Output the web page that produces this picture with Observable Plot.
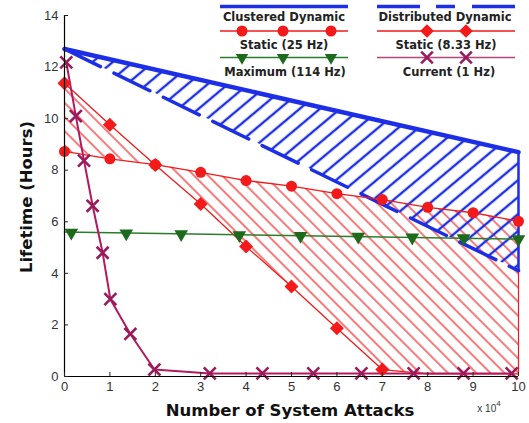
<!DOCTYPE html>
<html><head><meta charset="utf-8">
<script src="https://cdn.jsdelivr.net/npm/d3@7"></script>
<script src="https://cdn.jsdelivr.net/npm/@observablehq/plot@0.6"></script>
<style>
body{margin:0;background:#fff;}
#wrap{position:relative;width:529px;height:423px;overflow:hidden;}
#legend{position:absolute;left:0;top:0;pointer-events:none;}
</style></head><body><div id="wrap"></div>
<script>
// ---- data ----
const xTicks = [0,1,2,3,4,5,6,7,8,9,10];
const yTicks = [0,2,4,6,8,10,12,14];
const dynX = [0, 10];
const clusteredY = [12.7, 8.7];
const distributedY = [12.7, 4.1];
const staticX = [0,1,2,3,4,5,6,7,8,9,10];
const static25Y = [8.73,8.44,8.22,7.92,7.6,7.38,7.09,6.86,6.56,6.35,6.02];
const static833Y = [11.37,9.76,8.2,6.69,5.04,3.49,1.87,0.27,0.1,0.1,0.1];
const static833MarkCount = 8;
const maxLineX = [0, 10];
const maxLineY = [5.6, 5.33];
const maxMarkX = [0.15,1.36,2.57,3.85,5.2,6.47,7.66,8.79,10];
const maxMarkY = [5.58,5.55,5.52,5.48,5.45,5.42,5.39,5.36,5.33];
const currentX = [0.04,0.25,0.43,0.62,0.84,1.01,1.45,1.98,3.2,4.36,5.48,6.54,7.69,8.79,9.85];
const currentY = [12.18,10.1,8.37,6.62,4.8,3.0,1.65,0.27,0.12,0.12,0.12,0.12,0.12,0.12,0.12];
const legendLabels = ["Clustered Dynamic","Distributed Dynamic","Static (25 Hz)","Static (8.33 Hz)","Maximum (114 Hz)","Current (1 Hz)"];
const xLabel = "Number of System Attacks";
const yLabel = "Lifetime (Hours)";

// ---- tables ----
const dyn = dynX.map((x,i)=>({x, hi: clusteredY[i], lo: distributedY[i]}));
const stat = staticX.map((x,i)=>({x, a: static25Y[i], b: static833Y[i]}));
const maxLine = maxLineX.map((x,i)=>({x, y: maxLineY[i]}));
const maxMarks = maxMarkX.map((x,i)=>({x, y: maxMarkY[i]}));
const cur = currentX.map((x,i)=>({x, y: currentY[i]}));

const BLUE = "#1c2fe6", RED = "#f21a1a", GREEN = "#2a7d2a", GREEN_D = "#1d6a1d", PURP = "#b4195c", PURP_D = "#9a1b5c";

const chart = Plot.plot({
  width: 529, height: 423,
  marginLeft: 64, marginRight: 11, marginTop: 15, marginBottom: 47,
  style: {background: "white", fontFamily: "Liberation Sans, Arial, sans-serif"},
  x: {domain: [0, 10], ticks: xTicks},
  y: {domain: [0, 14], ticks: yTicks},
  marks: [
    Plot.areaY(stat, {x: "x", y1: "b", y2: "a", fill: "url(#hatchRed)"}),
    Plot.areaY(dyn, {x: "x", y1: "lo", y2: "hi", fill: "url(#hatchBlue)"}),
    Plot.ruleX([10], {y1: static833Y[static833Y.length-1], y2: static25Y[static25Y.length-1], stroke: RED, strokeWidth: 1.2}),
    Plot.ruleX([10], {y1: distributedY[1], y2: clusteredY[1], stroke: BLUE, strokeWidth: 2.5}),
    Plot.line(dyn, {x: "x", y: "lo", stroke: BLUE, strokeWidth: 3.5, strokeDasharray: "40,15"}),
    Plot.line(dyn, {x: "x", y: "hi", stroke: BLUE, strokeWidth: 4.5}),
    Plot.line(stat, {x: "x", y: "a", stroke: RED, strokeWidth: 1.3}),
    Plot.line(stat, {x: "x", y: "b", stroke: RED, strokeWidth: 1.3}),
    Plot.line(maxLine, {x: "x", y: "y", stroke: GREEN, strokeWidth: 1.5}),
    Plot.line(cur, {x: "x", y: "y", stroke: PURP, strokeWidth: 2}),
    Plot.dot(stat, {x: "x", y: "a", r: 5.5, fill: RED, stroke: "none"}),
    Plot.dot(stat.slice(0, static833MarkCount), {x: "x", y: "b", r: 6.3, symbol: "diamond2", fill: RED, stroke: "none"}),
    Plot.dot(maxMarks, {x: "x", y: "y", r: 6.5, symbol: "triangle2", rotate: 180, fill: GREEN_D, stroke: "none"}),
    Plot.dot(cur, {x: "x", y: "y", r: 5.5, symbol: "times", stroke: PURP_D, strokeWidth: 2.6}),
    Plot.ruleX([0], {stroke: "black", strokeWidth: 1.2}),
    Plot.ruleY([0], {stroke: "black", strokeWidth: 1.2}),
    Plot.axisX({ticks: xTicks, tickSize: -4, tickPadding: 9, label: null, fontSize: 13, color: "#333", stroke: "#222"}),
    Plot.axisY({ticks: yTicks, tickSize: -4, tickPadding: 10, label: null, fontSize: 13, color: "#333", stroke: "#222"})
  ]
});

const svg = d3.select(chart);
const defs = svg.insert("defs", ":first-child");
const pb = defs.append("pattern").attr("id","hatchBlue").attr("patternUnits","userSpaceOnUse")
  .attr("width",13).attr("height",13).attr("patternTransform","rotate(50)");
pb.append("line").attr("x1",3).attr("y1",0).attr("x2",3).attr("y2",13).attr("stroke",BLUE).attr("stroke-width",2.4);
const pr = defs.append("pattern").attr("id","hatchRed").attr("patternUnits","userSpaceOnUse")
  .attr("width",10).attr("height",10).attr("patternTransform","rotate(-45)");
pr.append("line").attr("x1",3).attr("y1",0).attr("x2",3).attr("y2",10).attr("stroke",RED).attr("stroke-width",1.15);

// axis titles
svg.append("text").text(xLabel).attr("x", 290).attr("y", 416).attr("text-anchor","middle")
  .attr("font-family","DejaVu Sans, sans-serif").attr("font-weight","bold").attr("font-size",16.5).attr("fill","#111");
svg.append("text").text(yLabel).attr("transform","translate(32,197) rotate(-90)").attr("text-anchor","middle")
  .attr("font-family","DejaVu Sans, sans-serif").attr("font-weight","bold").attr("font-size",16.5).attr("fill","#111");
const ex = svg.append("text").attr("x", 489).attr("y", 412).attr("font-size", 10).attr("fill","#333")
  .attr("font-family","Liberation Sans, Arial, sans-serif");
ex.append("tspan").text("x 10");
ex.append("tspan").text("4").attr("dy",-6).attr("font-size",8);

const wrap = document.getElementById("wrap");
wrap.appendChild(chart);

// legend overlay
const lg = d3.select(wrap).append("svg").attr("id","legend").attr("width",529).attr("height",80);
const tf = {"font-family":"DejaVu Sans, sans-serif","font-weight":"bold","font-size":11.5,"fill":"#222","text-anchor":"middle"};
function txt(t, x, y){ const e = lg.append("text").text(t).attr("x",x).attr("y",y); for (const k in tf) e.attr(k, tf[k]); }
const c1 = [220, 348], c2 = [377, 515];
const rows = [6.5, 31, 57.5];
const texty = [21, 49, 76];
lg.append("line").attr("x1",c1[0]).attr("x2",c1[1]).attr("y1",rows[0]).attr("y2",rows[0]).attr("stroke",BLUE).attr("stroke-width",3.5);
lg.append("line").attr("x1",c2[0]).attr("x2",c2[1]).attr("y1",rows[0]).attr("y2",rows[0]).attr("stroke",BLUE).attr("stroke-width",3.5).attr("stroke-dasharray","43,16,19,17");
lg.append("line").attr("x1",c1[0]).attr("x2",c1[1]).attr("y1",rows[1]).attr("y2",rows[1]).attr("stroke",RED).attr("stroke-width",1.3);
lg.append("line").attr("x1",c2[0]).attr("x2",c2[1]).attr("y1",rows[1]).attr("y2",rows[1]).attr("stroke",RED).attr("stroke-width",1.3);
lg.append("line").attr("x1",c1[0]).attr("x2",c1[1]).attr("y1",rows[2]).attr("y2",rows[2]).attr("stroke",GREEN).attr("stroke-width",1.5);
lg.append("line").attr("x1",c2[0]).attr("x2",c2[1]).attr("y1",rows[2]).attr("y2",rows[2]).attr("stroke","#b8457a").attr("stroke-width",1.5);
for (const x of [242, 283, 331]) {
  lg.append("circle").attr("cx",x).attr("cy",rows[1]).attr("r",5.5).attr("fill",RED);
  lg.append("path").attr("d", d3.symbol(d3.symbolTriangle2, 110)()).attr("transform",`translate(${x},${rows[2]}) rotate(180)`).attr("fill",GREEN_D);
}
for (const x of [427, 466]) {
  lg.append("path").attr("d", d3.symbol(d3.symbolDiamond2, 120)()).attr("transform",`translate(${x},${rows[1]})`).attr("fill",RED);
  lg.append("path").attr("d", d3.symbol(d3.symbolTimes, 90)()).attr("transform",`translate(${x},${rows[2]})`).attr("stroke",PURP_D).attr("stroke-width",2.6).attr("fill","none");
}
txt(legendLabels[0], 284, texty[0]); txt(legendLabels[1], 445, texty[0]);
txt(legendLabels[2], 284, texty[1]); txt(legendLabels[3], 446, texty[1]);
txt(legendLabels[4], 285, texty[2]); txt(legendLabels[5], 449, texty[2]);
</script></body></html>
